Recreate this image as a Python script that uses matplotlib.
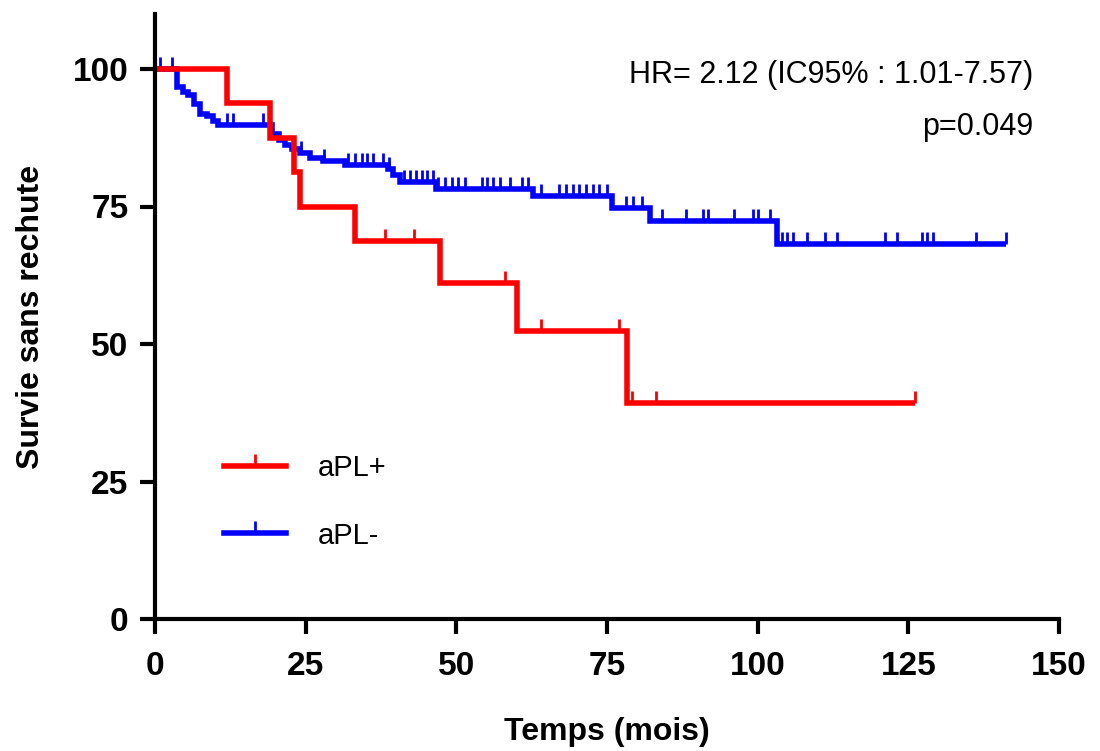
import numpy as np
import matplotlib
matplotlib.use("Agg")
import matplotlib.pyplot as plt
from matplotlib.lines import Line2D

plt.rcParams['font.family'] = ['Liberation Sans', 'DejaVu Sans']

# aPL+ : step times / survival levels, censored times
red_t = [0, 12.0, 19.0, 23.0, 24.0, 33.2, 47.3, 60.0, 78.3]
red_s = [100, 93.75, 87.5, 81.25, 75.0, 68.75, 61.1, 52.4, 39.3]
red_end = 126.1
red_cens = [38.2, 43.0, 58.1, 64.0, 77.0, 79.2, 83.1, 126.1]

# aPL- : step times / survival levels, censored times
blue_t = [0, 3.6, 4.7, 5.5, 6.4, 7.5, 8.6, 9.7, 10.5, 19.4, 20.5, 21.6, 22.7,
          24.1, 25.7, 27.9, 31.6, 38.7, 39.5, 40.7, 46.6, 62.7, 75.8, 82.1, 103.2]
blue_s = [100, 96.8, 95.9, 95.2, 93.7, 91.9, 91.4, 90.5, 89.8, 88.2, 87.1, 86.2, 85.4,
          84.7, 83.9, 83.3, 82.5, 81.9, 80.8, 79.4, 78.2, 76.9, 74.8, 72.3, 68.1]
blue_end = 141.2
blue_cens = [0.8, 2.8, 12.0, 12.9, 18.0, 24.3, 28.1,
             32.0, 33.2, 34.3, 35.2, 36.2, 37.8, 38.9,
             41.3, 42.3, 43.3, 44.3, 45.1, 46.1,
             47.0, 48.1, 49.3, 50.3, 51.4, 54.3, 55.1, 56.1, 57.2, 58.9, 60.9, 61.9,
             64.0, 67.0, 68.2, 69.4, 70.3, 71.5, 72.7, 73.7, 75.0,
             78.1, 79.3, 80.8,
             84.1, 88.1, 90.9, 91.8, 96.1, 99.2, 100.0, 102.0,
             104.0, 104.9, 105.9, 108.2, 111.2, 113.2, 121.1, 123.1, 127.3, 128.1,
             129.1, 136.2, 141.2]

xticks = [0, 25, 50, 75, 100, 125, 150]
yticks = [0, 25, 50, 75, 100]

tick_marker = [(0, 0), (0, 1)]

fig = plt.figure(figsize=(11, 7.51), dpi=100)
ax = fig.add_axes([155 / 1100, 1 - 619 / 751, (1059 - 155) / 1100, (619 - 14) / 751])


def km(t, s, end, cens, color):
    tt = list(t) + [end]
    ss = list(s) + [s[-1]]
    ax.step(tt, ss, where='post', color=color, lw=4, solid_joinstyle='miter',
            solid_capstyle='butt', clip_on=False)
    idx = np.searchsorted(np.array(t), np.array(cens), side='right') - 1
    lev = np.array(s)[idx]
    ax.plot(cens, lev, ls='none', marker=tick_marker, ms=17, mew=2,
            color=color, clip_on=False)


km(blue_t, blue_s, blue_end, blue_cens, '#0000FF')
km(red_t, red_s, red_end, red_cens, '#FF0000')

ax.set_xlim(0, 150)
ax.set_ylim(0, 110)
ax.set_xticks(xticks)
ax.set_yticks(yticks)
ax.spines['top'].set_visible(False)
ax.spines['right'].set_visible(False)
for sp in ['left', 'bottom']:
    ax.spines[sp].set_linewidth(3)
ax.tick_params(width=3, length=11, labelsize=24)
ax.tick_params(axis='x', pad=12)
ax.tick_params(axis='y', pad=8)
for lab in ax.get_xticklabels() + ax.get_yticklabels():
    lab.set_fontweight('bold')

ax.set_xlabel('Temps (mois)', fontsize=23, fontweight='bold', labelpad=25)
ax.set_ylabel('Survie sans rechute', fontsize=23, fontweight='bold', labelpad=19)

ax.text(1033 / 1100, 1 - 75 / 751, 'HR= 2.12 (IC95% : 1.01-7.57)', transform=fig.transFigure,
        ha='right', va='center', fontsize=22)
ax.text(1033 / 1100, 1 - 127 / 751, 'p=0.049', transform=fig.transFigure,
        ha='right', va='center', fontsize=22)

handles = [Line2D([], [], color='#FF0000', lw=4, marker=tick_marker, ms=17, mew=2),
           Line2D([], [], color='#0000FF', lw=4, marker=tick_marker, ms=17, mew=2)]
ax.legend(handles, ['aPL+', 'aPL-'], loc='upper left',
          bbox_to_anchor=(198 / 1100, 1 - 428 / 751), bbox_transform=fig.transFigure,
          frameon=False, fontsize=21, handlelength=2.1, handletextpad=1.1,
          labelspacing=1.35, numpoints=1)

fig.savefig('out.png', dpi=100)
